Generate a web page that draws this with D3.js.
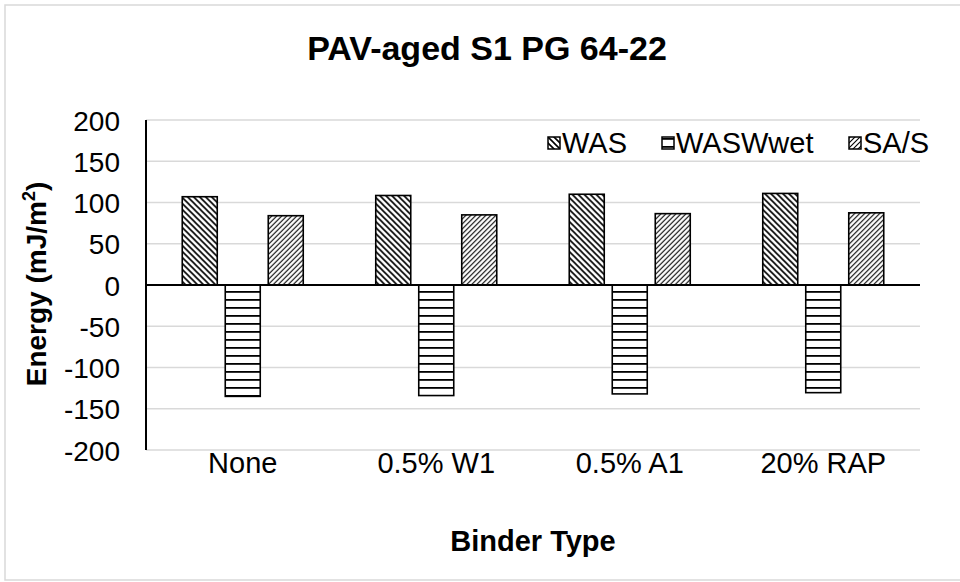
<!DOCTYPE html>
<html><head><meta charset="utf-8">
<script src="https://cdn.jsdelivr.net/npm/d3@7"></script>
<style>body{margin:0;background:#fff}svg{display:block}text{font-family:"Liberation Sans",Arial,sans-serif}</style>
</head><body><svg id="c" width="960" height="582"></svg>
<script>
const categories = ["None", "0.5% W1", "0.5% A1", "20% RAP"];
const seriesNames = ["WAS", "WASWwet", "SA/S"];
const WAS = [107, 108.5, 110, 111];
const WASWwet = [-135, -134, -132, -130.5];
const SAS = [84, 85, 86.5, 87.5];
const yTicks = [-200, -150, -100, -50, 0, 50, 100, 150, 200];

const values = [WAS, WASWwet, SAS];
const patterns = ["pWAS", "pWet", "pSAS"];

const svg = d3.select("#c");
const defs = svg.append("defs");
// WAS: dark downward diagonal
let p = defs.append("pattern").attr("id","pWAS").attr("patternUnits","userSpaceOnUse").attr("width",6).attr("height",6);
p.append("rect").attr("width",6).attr("height",6).attr("fill","#fff");
p.append("path").attr("d","M-1,-1 L7,7 M-4,2 L1,7 M2,-4 L7,1").attr("stroke","#000").attr("stroke-width",1.6);
// SA/S: light upward diagonal
p = defs.append("pattern").attr("id","pSAS").attr("patternUnits","userSpaceOnUse").attr("width",5).attr("height",5);
p.append("rect").attr("width",5).attr("height",5).attr("fill","#fff");
p.append("path").attr("d","M-1,6 L6,-1 M-3,3 L3,-3 M2,8 L8,2").attr("stroke","#000").attr("stroke-width",1.1);
// WASWwet: horizontal lines
p = defs.append("pattern").attr("id","pWet").attr("patternUnits","userSpaceOnUse").attr("width",8).attr("height",8);
p.append("rect").attr("width",8).attr("height",8).attr("fill","#fff");
p.append("rect").attr("y",3).attr("width",8).attr("height",1.8).attr("fill","#000");

// frame
svg.append("rect").attr("x",5).attr("y",5).attr("width",970).attr("height",575)
  .attr("fill","#fff").attr("stroke","#d9d9d9").attr("stroke-width",1.5);

const x0 = d3.scaleBand().domain(categories).range([146, 920]);
const x1 = d3.scaleBand().domain(seriesNames).range([-60.5, 60.5]).paddingInner(8/43);
const y = d3.scaleLinear().domain([-200, 200]).range([450, 120]);

// gridlines
svg.append("g").selectAll("line").data(yTicks.filter(d => d !== 0)).join("line")
  .attr("x1",146).attr("x2",920).attr("y1",d=>y(d)).attr("y2",d=>y(d))
  .attr("stroke","#d9d9d9").attr("stroke-width",1.5);

// y axis labels
const yAxis = d3.axisLeft(y).tickValues(yTicks).tickSize(0).tickPadding(0).tickFormat(d => String(d));
const ga = svg.append("g").attr("transform","translate(120,0)").call(yAxis);
ga.select(".domain").remove();
ga.selectAll("text").attr("font-size",28).attr("fill","#000").attr("font-family","Liberation Sans, Arial, sans-serif").attr("dy","0.36em");

// legend background + legend
const legX = [548, 662, 849];
const lg = svg.append("g").selectAll("g").data(seriesNames).join("g")
  .attr("transform",(d,i)=>`translate(${legX[i]},143)`);
lg.append("rect").attr("x",0).attr("y",-6).attr("width",12).attr("height",12)
  .attr("fill",(d,i)=>`url(#${patterns[i]})`).attr("stroke","#000").attr("stroke-width",1.5);
lg.append("text").attr("x",14).attr("dy","0.36em").attr("font-size",29).text(d=>d);

// bars
const groups = svg.append("g").selectAll("g").data(categories).join("g")
  .attr("transform", d => `translate(${x0(d)+x0.bandwidth()/2},0)`);
groups.selectAll("rect").data((c,i) => seriesNames.map((s,j) => ({s, v: values[j][i], j})))
  .join("rect")
  .attr("x", d => x1(d.s)).attr("width", x1.bandwidth())
  .attr("y", d => y(Math.max(0,d.v))).attr("height", d => Math.abs(y(d.v)-y(0)))
  .attr("fill", d => `url(#${patterns[d.j]})`).attr("stroke","#000").attr("stroke-width",1.6);

// axis lines
svg.append("line").attr("x1",146).attr("x2",146).attr("y1",y(200)).attr("y2",y(-200)).attr("stroke","#000").attr("stroke-width",2);
svg.append("line").attr("x1",146).attr("x2",920).attr("y1",y(0)).attr("y2",y(0)).attr("stroke","#000").attr("stroke-width",2);

// category labels
const xAxis = d3.axisBottom(x0).tickSize(0).tickPadding(0);
const gx = svg.append("g").attr("transform","translate(0,463)").call(xAxis);
gx.select(".domain").remove();
gx.selectAll("text").attr("font-size",29).attr("fill","#000").attr("font-family","Liberation Sans, Arial, sans-serif").attr("dy","0.36em");

// title
svg.append("text").attr("x",487).attr("y",60).attr("text-anchor","middle").attr("font-size",34).attr("font-weight","bold").text("PAV-aged S1 PG 64-22");
// x title
svg.append("text").attr("x",533).attr("y",551).attr("text-anchor","middle").attr("font-size",29).attr("font-weight","bold").text("Binder Type");
// y title
const yt = svg.append("text").attr("transform","translate(46,284) rotate(-90)").attr("text-anchor","middle").attr("font-size",28).attr("font-weight","bold");
yt.append("tspan").text("Energy (mJ/m");
yt.append("tspan").attr("font-size",18).attr("dy",-11).text("2");
yt.append("tspan").attr("dy",11).text(")");
</script></body></html>
